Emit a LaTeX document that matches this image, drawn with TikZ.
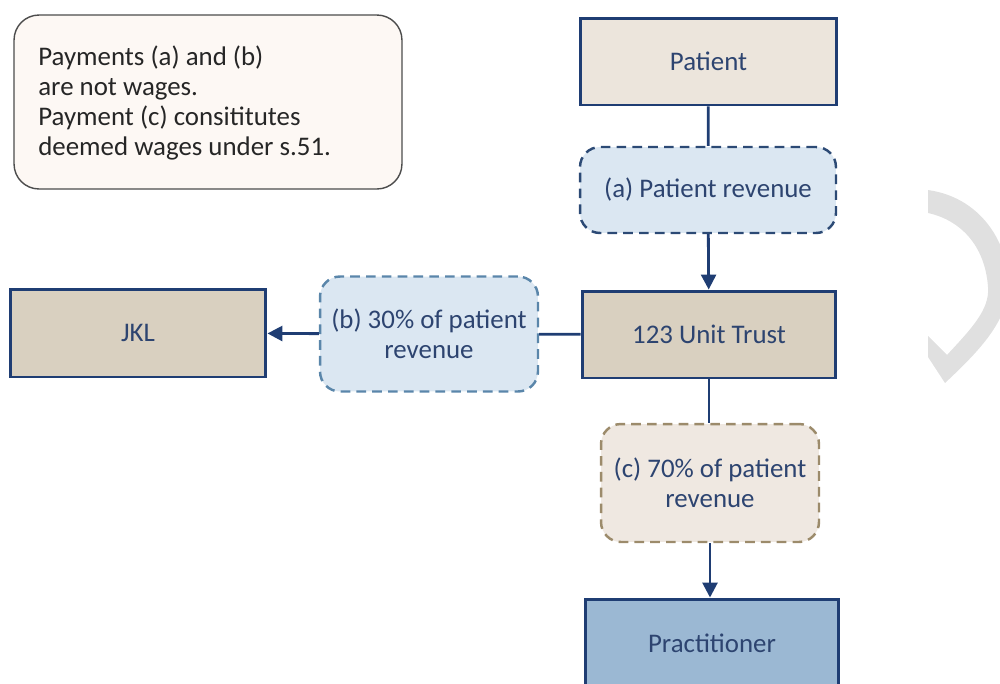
\documentclass[tikz,border=0pt]{standalone}
\usepackage{fontspec}
\setmainfont{Carlito}
\usetikzlibrary{arrows.meta}

\definecolor{navyline}{HTML}{1F3D73}
\definecolor{labeltext}{HTML}{2D4470}
\definecolor{patientfill}{HTML}{ECE5DC}
\definecolor{trustfill}{HTML}{D9D0C0}
\definecolor{revfill}{HTML}{DBE7F2}
\definecolor{revdark}{HTML}{2C4A75}
\definecolor{revlight}{HTML}{5A86AA}
\definecolor{sharefill}{HTML}{EFE8E1}
\definecolor{shareline}{HTML}{9C8B6B}
\definecolor{practfill}{HTML}{9BB8D3}
\definecolor{notefill}{HTML}{FDF8F4}
\definecolor{markgrey}{HTML}{E0E0E0}

\tikzset{
	party/.style={draw=navyline, line width=1.7pt, text=labeltext, align=center, font=\fontsize{15.3}{17.3}\selectfont},
	payment/.style={draw, dash pattern=on 5.5pt off 3.5pt, line width=1.4pt, rounded corners=0.4cm, text=labeltext, align=center, font=\fontsize{15.3}{17.3}\selectfont},
	flow/.style={draw=navyline, line width=1.6pt},
	flowtip/.style={flow, -{Triangle[length=8.5pt, width=8.5pt]}}
}

\begin{document}
\begin{tikzpicture}[x=0.02cm, y=-0.02cm]
			%%%%% START %%%%%
			
			\clip (0, 0) rectangle (1000, 683);
			
			\draw[fill=markgrey, draw=none] (928, 190) .. controls (985, 198) and (1012, 250) .. (1008, 292)
				.. controls (1004, 325) and (978, 352) .. (945, 383) -- (928, 357) -- (928, 336) -- (947, 355)
				.. controls (970, 330) and (990, 310) .. (988, 287)
				.. controls (985, 245) and (960, 220) .. (928, 213) -- cycle;
			
			\node[draw=black!70, fill=notefill, line width=0.8pt, rounded corners=0.5cm, minimum width=7.76cm, minimum height=3.48cm] (note) at (208, 102) {};
			\node[anchor=north west, align=left, text=black!85, font=\fontsize{15.3}{17.1}\selectfont, inner sep=0pt] (notetext) at (38, 45) {Payments (a) and (b)\\are not wages.\\Payment (c) consititutes\\deemed wages under s.51.};
			
			\node[party, fill=patientfill, minimum width=5.14cm, minimum height=1.74cm] (patient) at (708.5, 61.5) {Patient};
			\node[payment, draw=revdark, fill=revfill, minimum width=5.12cm, minimum height=1.72cm] (reva) at (708, 190) {(a) Patient revenue};
			\node[party, fill=trustfill, minimum width=5.08cm, minimum height=1.74cm] (trust) at (709, 334.5) {123 Unit Trust};
			\node[payment, draw=revlight, fill=revfill, minimum width=4.36cm, minimum height=2.3cm] (revb) at (429, 334) {(b) 30\% of patient\\revenue};
			\node[party, fill=trustfill, minimum width=5.12cm, minimum height=1.76cm] (jkl) at (138, 333) {JKL};
			\node[payment, draw=shareline, fill=sharefill, minimum width=4.36cm, minimum height=2.36cm] (revc) at (710, 483) {(c) 70\% of patient\\revenue};
			\node[party, fill=practfill, minimum width=5.08cm, minimum height=1.76cm] (pract) at (712, 643) {Practitioner};
			
			\draw[flow] (patient) -- (reva);
			\draw[flowtip] (reva) -- (trust);
			\draw[flow] (trust) -- (revb);
			\draw[flowtip] (revb) -- (jkl);
			\draw[flow] (trust.south) -- (revc.north -| trust.south);
			\draw[flowtip] (revc.south) -- (revc.south |- pract.north);
			
			%%%%% END %%%%%
\end{tikzpicture}
\end{document}
